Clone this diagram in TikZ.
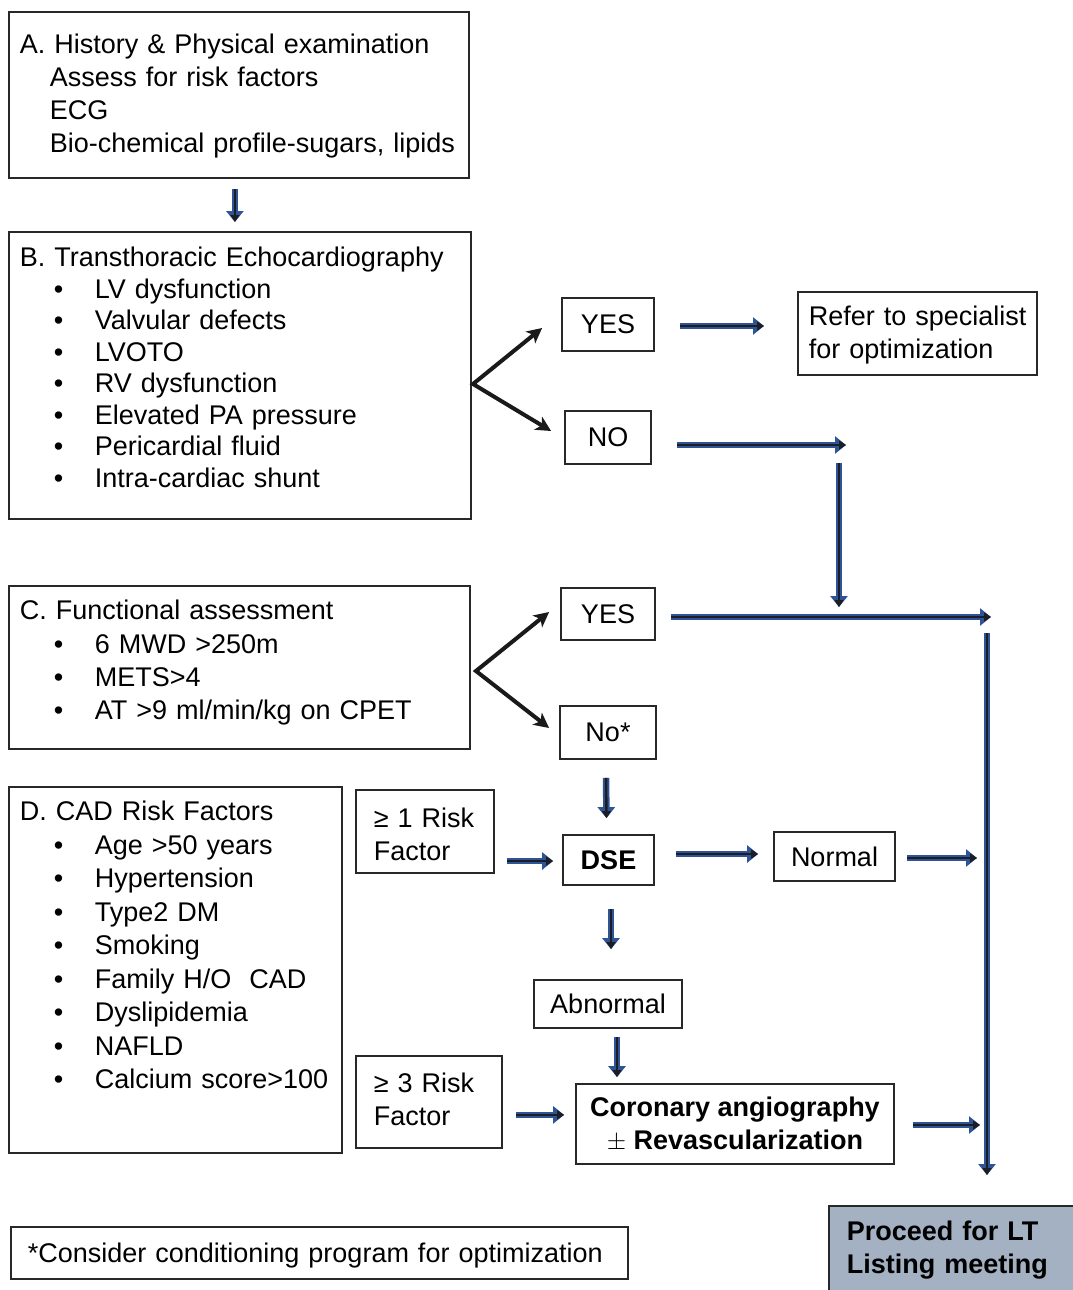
\documentclass[tikz,border=0pt]{standalone}
\usepackage{fontspec}
\setmainfont{Liberation Sans}
\usetikzlibrary{arrows.meta,calc}
\definecolor{flowblue}{RGB}{47,84,150}
\definecolor{flowcore}{RGB}{28,30,38}
\definecolor{forkline}{RGB}{26,26,26}
\definecolor{boxline}{RGB}{40,40,40}
\definecolor{proceedfill}{RGB}{163,177,195}
\newcommand{\bul}[1]{\makebox[75pt][l]{\hspace{34pt}\textbullet}\mbox{#1}}
\newcommand{\ind}[1]{\hspace*{30pt}\mbox{#1}}
\tikzset{
  bigbox/.style={draw=boxline, line width=1.8pt, anchor=north west, align=left, inner xsep=11pt, inner ysep=0pt},
  smallbox/.style={draw=boxline, line width=1.8pt, inner sep=0pt, align=center},
  flow/.style={preaction={draw=flowblue, line width=6.5pt, -{Triangle[length=11pt,width=17pt]}},
    draw=flowcore, line width=2.5pt, -{Triangle[length=7pt,width=9pt]}},
  fork/.style={draw=forkline, line width=4pt, line join=miter,
    {Stealth[length=15pt,width=15pt,inset=4pt]}-{Stealth[length=15pt,width=15pt,inset=4pt]}}
}
\begin{document}
\begin{tikzpicture}[x=1pt, y=-1pt, font=\fontsize{27}{33}\selectfont]
  \clip (0,0) rectangle (1073,1290);
  \fill[white] (0,0) rectangle (1073,1290);
  \node[bigbox, text width=438pt, text height=42pt, text depth=124pt] (boxA) at (8,11)
    {A. History \& Physical examination\\ \ind{Assess for risk factors}\\ \ind{ECG}\\ \ind{Bio-chemical profile-sugars, lipids}};
  \node[bigbox, text width=440pt, text height=35pt, text depth=252pt, font=\fontsize{27}{31.5}\selectfont] (boxB) at (8,231)
    {B. Transthoracic Echocardiography\\ \bul{LV dysfunction}\\ \bul{Valvular defects}\\ \bul{LVOTO}\\ \bul{RV dysfunction}\\
     \bul{Elevated PA pressure}\\ \bul{Pericardial fluid}\\ \bul{Intra-cardiac shunt}};
  \node[bigbox, text width=439pt, text height=34pt, text depth=129pt, font=\fontsize{27}{33.3}\selectfont] (boxC) at (8,585)
    {C. Functional assessment\\ \bul{6 MWD >250m}\\ \bul{METS>4}\\ \bul{AT >9 ml/min/kg on CPET}};
  \node[bigbox, text width=311pt, text height=34pt, text depth=332pt, font=\fontsize{27}{33.5}\selectfont] (boxD) at (8,786)
    {D. CAD Risk Factors\\ \bul{Age >50 years}\\ \bul{Hypertension}\\ \bul{Type2 DM}\\ \bul{Smoking}\\
     \bul{Family H/O\ \ CAD}\\ \bul{Dyslipidemia}\\ \bul{NAFLD}\\ \bul{Calcium score>100}};
  \node[bigbox, text width=217pt, text height=34pt, text depth=49pt] (refer) at (797,291)
    {\mbox{Refer to specialist}\\ \mbox{for optimization}};
  \node[bigbox, inner xsep=18pt, text width=102pt, text height=38pt, text depth=45pt] (risk1) at (355,789)
    {\mbox{≥ 1 Risk}\\ Factor};
  \node[bigbox, inner xsep=18pt, text width=110pt, text height=37pt, text depth=55pt] (risk3) at (355,1055)
    {\mbox{≥ 3 Risk}\\ Factor};
  \node[bigbox, fill=proceedfill, inner xsep=18pt, text width=224pt, text height=35pt, text depth=70pt, font=\fontsize{27}{33}\selectfont\bfseries] (proceed) at (828,1205)
    {\mbox{Proceed for LT}\\ \mbox{Listing meeting}};
  \node[bigbox, inner xsep=17pt, text width=583pt, text height=36pt, text depth=16pt] (note) at (10,1226)
    {\mbox{*Consider conditioning program for optimization}};
  \node[smallbox, minimum width=92pt, minimum height=53pt] (yesB) at (608,324.5) {YES};
  \node[smallbox, minimum width=86pt, minimum height=53pt] (noB) at (608,437.5) {NO};
  \node[smallbox, minimum width=94pt, minimum height=52pt] (yesC) at (608,614) {YES};
  \node[smallbox, minimum width=96pt, minimum height=53pt] (noC) at (608,732.5) {No*};
  \node[smallbox, minimum width=91pt, minimum height=50pt, font=\fontsize{27}{33}\selectfont\bfseries] (dse) at (608.5,860) {DSE};
  \node[smallbox, minimum width=121pt, minimum height=49pt] (normal) at (834.5,856.5) {Normal};
  \node[smallbox, minimum width=148pt, minimum height=48pt] (abnormal) at (608,1004) {Abnormal};
  \node[smallbox, minimum width=318pt, minimum height=80pt, font=\fontsize{27}{33}\selectfont\bfseries] (coronary) at (735,1124)
    {Coronary angiography\\ $\pm$ Revascularization};
  \coordinate (forkB) at (473,384);
  \coordinate (forkC) at (476,671);
  \coordinate (noEnd) at (846,445);
  \coordinate (dropTop) at (839,463);
  \coordinate (dropEnd) at (839,607);
  \coordinate (railIn) at (991,617);
  \coordinate (railTop) at (987,633);
  \coordinate (railEnd) at (987,1175);
  \coordinate (normalOut) at (977,858);
  \coordinate (coronaryOut) at (980,1125);
  \draw[flow] ($(boxA.south)+(-4,10)$) -- ($(boxB.north)+(-5,-9)$);
  \draw[fork] ($(yesB.west)+(-19,3.5)$) -- (forkB) -- ($(noB.west)+(-13,-6.5)$);
  \draw[fork] ($(yesC.west)+(-11,-2)$) -- (forkC) -- ($(noC.west)+(-10,-4.5)$);
  \draw[flow] ($(yesB.east)+(25,1.5)$) -- ($(refer.west |- yesB.east)+(-33,1.5)$);
  \draw[flow] ($(noB.east)+(25,7.5)$) -- (noEnd);
  \draw[flow] (dropTop) -- (dropEnd);
  \draw[flow] ($(yesC.east)+(15,3)$) -- (railIn);
  \draw[flow] (railTop) -- (railEnd);
  \draw[flow] ($(noC.south)+(-2,18)$) -- ($(dse.north)+(-2,-16)$);
  \draw[flow] ($(risk1.east |- dse.west)+(12,1)$) -- ($(dse.west)+(-9,1)$);
  \draw[flow] ($(dse.east)+(21,-6)$) -- ($(normal.west |- dse.east)+(-15,-6)$);
  \draw[flow] ($(normal.east)+(11,1.5)$) -- (normalOut);
  \draw[flow] ($(dse.south)+(2.5,23)$) -- ($(abnormal.north)+(3,-30)$);
  \draw[flow] ($(abnormal.south)+(9,8)$) -- ($(abnormal.south |- coronary.north)+(9,-6)$);
  \draw[flow] ($(risk3.east)+(13,13)$) -- ($(coronary.west |- risk3.east)+(-11,13)$);
  \draw[flow] ($(coronary.east)+(18,1)$) -- (coronaryOut);
\end{tikzpicture}
\end{document}
